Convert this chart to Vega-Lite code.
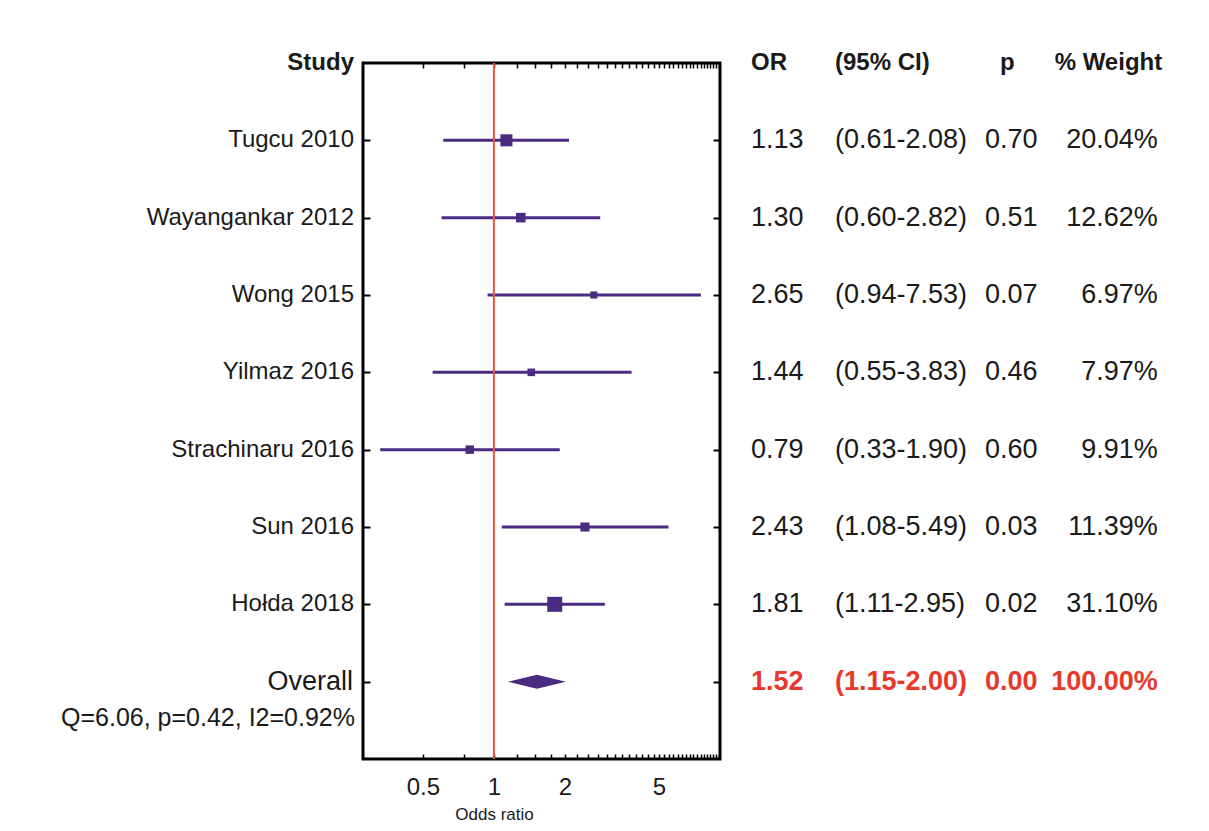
{
  "$schema": "https://vega.github.io/schema/vega-lite/v6.json",
  "background": "white",
  "padding": {"left": 0, "top": 51, "right": 0, "bottom": 0},
  "spacing": 0,
  "config": {
    "font": "Liberation Sans",
    "view": {"stroke": null},
    "text": {"font": "Liberation Sans", "color": "#1a1a1a", "baseline": "middle"},
    "axis": {"labelFont": "Liberation Sans", "titleFont": "Liberation Sans", "grid": false, "domain": false}
  },
  "datasets": {
    "studies": [
      {"study": "Tugcu 2010", "row": 1, "or": 1.13, "lo": 0.61, "hi": 2.08, "ci": "(0.61-2.08)", "p": 0.70, "weight": 0.2004},
      {"study": "Wayangankar 2012", "row": 2, "or": 1.30, "lo": 0.60, "hi": 2.82, "ci": "(0.60-2.82)", "p": 0.51, "weight": 0.1262},
      {"study": "Wong 2015", "row": 3, "or": 2.65, "lo": 0.94, "hi": 7.53, "ci": "(0.94-7.53)", "p": 0.07, "weight": 0.0697},
      {"study": "Yilmaz 2016", "row": 4, "or": 1.44, "lo": 0.55, "hi": 3.83, "ci": "(0.55-3.83)", "p": 0.46, "weight": 0.0797},
      {"study": "Strachinaru 2016", "row": 5, "or": 0.79, "lo": 0.33, "hi": 1.90, "ci": "(0.33-1.90)", "p": 0.60, "weight": 0.0991},
      {"study": "Sun 2016", "row": 6, "or": 2.43, "lo": 1.08, "hi": 5.49, "ci": "(1.08-5.49)", "p": 0.03, "weight": 0.1139},
      {"study": "Hołda 2018", "row": 7, "or": 1.81, "lo": 1.11, "hi": 2.95, "ci": "(1.11-2.95)", "p": 0.02, "weight": 0.3110}
    ],
    "overall": [
      {"study": "Overall", "row": 8, "or": 1.52, "lo": 1.15, "hi": 2.00, "ci": "(1.15-2.00)", "p": 0.00, "weight": 1.0, "het": "Q=6.06, p=0.42, I2=0.92%"}
    ],
    "header": [{"row": 0}]
  },
  "hconcat": [
    {
      "width": 360,
      "height": 696,
      "layer": [
        {
          "data": {"name": "header"},
          "mark": {"type": "text", "text": "Study", "fontSize": 24, "fontWeight": "bold", "align": "right", "dx": -6},
          "encoding": {
            "x": {"datum": 100, "type": "quantitative", "scale": {"domain": [0, 100]}, "axis": null},
            "y": {"field": "row", "type": "quantitative", "scale": {"domain": [0, 9], "reverse": true, "nice": false}, "axis": null}
          }
        },
        {
          "data": {"name": "studies"},
          "mark": {"type": "text", "fontSize": 24, "align": "right", "dx": -6},
          "encoding": {
            "x": {"datum": 100, "type": "quantitative"},
            "y": {"field": "row", "type": "quantitative"},
            "text": {"field": "study"}
          }
        },
        {
          "data": {"name": "overall"},
          "mark": {"type": "text", "fontSize": 27, "align": "right", "dx": -7},
          "encoding": {
            "x": {"datum": 100, "type": "quantitative"},
            "y": {"field": "row", "type": "quantitative"},
            "text": {"field": "study"}
          }
        },
        {
          "data": {"name": "overall"},
          "mark": {"type": "text", "fontSize": 25, "align": "right", "dx": -5, "dy": 36},
          "encoding": {
            "x": {"datum": 100, "type": "quantitative"},
            "y": {"field": "row", "type": "quantitative"},
            "text": {"field": "het"}
          }
        }
      ]
    },
    {
      "width": 357,
      "height": 696,
      "view": {"stroke": "black", "strokeWidth": 3},
      "resolve": {"axis": {"x": "independent", "y": "independent"}},
      "layer": [
        {
          "data": {"name": "studies"},
          "mark": {"type": "rule", "color": "#4b2a82", "strokeWidth": 3},
          "encoding": {
            "x": {
              "field": "lo", "type": "quantitative",
              "scale": {"type": "log", "domain": [0.279, 9.07], "nice": false},
              "axis": {
                "orient": "bottom",
                "values": [0.5, 0.75, 1, 1.25, 1.5, 1.75, 2, 2.25, 2.5, 2.75, 3, 3.25, 3.5, 3.75, 4, 4.25, 4.5, 4.75, 5, 5.25, 5.5, 5.75, 6, 6.25, 6.5, 6.75, 7, 7.25, 7.5, 7.75, 8, 8.25, 8.5, 8.75, 9],
                "format": "~g",
                "labelExpr": "indexof([0.5, 1, 2, 5], datum.value) >= 0 ? datum.label : ''",
                "labelOverlap": false,
                "labelFlush": false,
                "labelFontSize": 24,
                "labelColor": "#1a1a1a",
                "labelPadding": 21,
                "tickSize": -5,
                "tickWidth": 1.5,
                "tickColor": "black",
                "title": "Odds ratio",
                "titleFontSize": 17,
                "titleFontWeight": "normal",
                "titleColor": "#1a1a1a",
                "titleX": 131,
                "titlePadding": 7
              }
            },
            "x2": {"field": "hi"},
            "y": {
              "field": "row", "type": "quantitative",
              "scale": {"domain": [0, 9], "reverse": true, "nice": false},
              "axis": {"orient": "left", "values": [1, 2, 3, 4, 5, 6, 7, 8], "labels": false, "title": null, "tickSize": -7, "tickWidth": 2, "tickColor": "black"}
            }
          }
        },
        {
          "data": {"name": "header"},
          "mark": {"type": "rule", "color": "#e8553a", "strokeWidth": 2},
          "encoding": {
            "x": {"datum": 1, "type": "quantitative", "axis": null}
          }
        },
        {
          "data": {"name": "studies"},
          "mark": {"type": "point", "shape": "square", "filled": true, "opacity": 1, "color": "#4b2a82"},
          "encoding": {
            "x": {
              "field": "or", "type": "quantitative",
              "axis": {
                "orient": "top",
                "values": [0.5, 0.75, 1, 1.25, 1.5, 1.75, 2, 2.25, 2.5, 2.75, 3, 3.25, 3.5, 3.75, 4, 4.25, 4.5, 4.75, 5, 5.25, 5.5, 5.75, 6, 6.25, 6.5, 6.75, 7, 7.25, 7.5, 7.75, 8, 8.25, 8.5, 8.75, 9],
                "labels": false, "title": null, "tickSize": -5, "tickWidth": 1.5, "tickColor": "black"
              }
            },
            "y": {
              "field": "row", "type": "quantitative",
              "axis": {"orient": "right", "values": [1, 2, 3, 4, 5, 6, 7, 8], "labels": false, "title": null, "tickSize": -7, "tickWidth": 2, "tickColor": "black"}
            },
            "size": {"field": "weight", "type": "quantitative", "scale": {"domain": [0, 0.311], "range": [0, 225]}, "legend": null}
          }
        },
        {
          "data": {"name": "overall"},
          "mark": {"type": "point", "shape": "M-1,0L0,-0.24L1,0L0,0.24Z", "size": 3364, "filled": true, "opacity": 1, "color": "#4b2a82"},
          "encoding": {
            "x": {"field": "or", "type": "quantitative", "axis": null},
            "y": {"field": "row", "type": "quantitative", "axis": null}
          }
        }
      ]
    },
    {
      "width": 480,
      "height": 696,
      "encoding": {
        "y": {"field": "row", "type": "quantitative", "scale": {"domain": [0, 9], "reverse": true, "nice": false}, "axis": null}
      },
      "layer": [
        {
          "data": {"name": "header"},
          "mark": {"type": "text", "text": "OR", "fontSize": 24, "fontWeight": "bold", "align": "left"},
          "encoding": {"x": {"datum": 5.83, "type": "quantitative", "scale": {"domain": [0, 100]}, "axis": null}}
        },
        {
          "data": {"name": "header"},
          "mark": {"type": "text", "text": "(95% CI)", "fontSize": 24, "fontWeight": "bold", "align": "left"},
          "encoding": {"x": {"datum": 23.33, "type": "quantitative"}}
        },
        {
          "data": {"name": "header"},
          "mark": {"type": "text", "text": "p", "fontSize": 24, "fontWeight": "bold", "align": "left"},
          "encoding": {"x": {"datum": 57.7, "type": "quantitative"}}
        },
        {
          "data": {"name": "header"},
          "mark": {"type": "text", "text": "% Weight", "fontSize": 24, "fontWeight": "bold", "align": "right"},
          "encoding": {"x": {"datum": 91.5, "type": "quantitative"}}
        },
        {
          "data": {"name": "studies"},
          "mark": {"type": "text", "fontSize": 27, "align": "left"},
          "encoding": {"x": {"datum": 5.83, "type": "quantitative"}, "text": {"field": "or", "format": ".2f"}}
        },
        {
          "data": {"name": "studies"},
          "mark": {"type": "text", "fontSize": 27, "align": "left"},
          "encoding": {"x": {"datum": 23.33, "type": "quantitative"}, "text": {"field": "ci"}}
        },
        {
          "data": {"name": "studies"},
          "mark": {"type": "text", "fontSize": 27, "align": "left"},
          "encoding": {"x": {"datum": 54.6, "type": "quantitative"}, "text": {"field": "p", "format": ".2f"}}
        },
        {
          "data": {"name": "studies"},
          "mark": {"type": "text", "fontSize": 27, "align": "right"},
          "encoding": {"x": {"datum": 90.6, "type": "quantitative"}, "text": {"field": "weight", "format": ".2%"}}
        },
        {
          "data": {"name": "overall"},
          "mark": {"type": "text", "fontSize": 27, "fontWeight": "bold", "color": "#e8382c", "align": "left"},
          "encoding": {"x": {"datum": 5.83, "type": "quantitative"}, "text": {"field": "or", "format": ".2f"}}
        },
        {
          "data": {"name": "overall"},
          "mark": {"type": "text", "fontSize": 27, "fontWeight": "bold", "color": "#e8382c", "align": "left"},
          "encoding": {"x": {"datum": 23.33, "type": "quantitative"}, "text": {"field": "ci"}}
        },
        {
          "data": {"name": "overall"},
          "mark": {"type": "text", "fontSize": 27, "fontWeight": "bold", "color": "#e8382c", "align": "left"},
          "encoding": {"x": {"datum": 54.6, "type": "quantitative"}, "text": {"field": "p", "format": ".2f"}}
        },
        {
          "data": {"name": "overall"},
          "mark": {"type": "text", "fontSize": 27, "fontWeight": "bold", "color": "#e8382c", "align": "right"},
          "encoding": {"x": {"datum": 90.6, "type": "quantitative"}, "text": {"field": "weight", "format": ".2%"}}
        }
      ]
    }
  ]
}
